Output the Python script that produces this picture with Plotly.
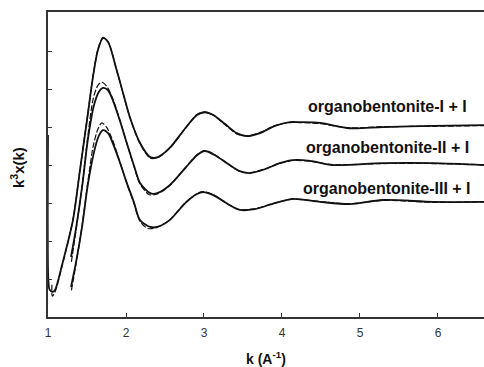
import plotly.graph_objects as go

# ---- data ----
k_I = [1.0, 1.004, 1.02, 1.06, 1.09, 1.18, 1.32, 1.41, 1.50, 1.58, 1.64, 1.705, 1.77, 1.88, 1.97,
       2.05, 2.18, 2.31, 2.41, 2.56, 2.76, 2.91, 3.01, 3.12, 3.27, 3.42, 3.55, 3.72, 3.91,
       4.10, 4.23, 4.49, 4.87, 5.29, 5.94, 6.59]
exp_I = [4.79, 1.0, 0.72, 0.66, 0.71, 1.37, 2.55, 3.87, 5.18, 6.37, 7.03, 7.34, 7.24, 6.50, 5.84,
         5.26, 4.58, 4.21, 4.21, 4.45, 4.97, 5.32, 5.39, 5.32, 5.08, 4.84, 4.76, 4.84, 5.03,
         5.13, 5.13, 5.11, 4.97, 5.00, 5.03, 5.05]
kf_I = [1.05, 1.055, 1.09, 1.18, 1.32, 1.41, 1.50, 1.58, 1.64, 1.705, 1.77, 1.88, 1.97, 2.05,
        2.18, 2.31, 2.41, 2.56, 2.76, 2.91, 3.01, 3.12, 3.27, 3.42, 3.55, 3.72, 3.91, 4.10,
        4.23, 4.49, 4.87, 5.29, 5.94, 6.59]
fit_I = [0.85, 0.55, 0.66, 1.33, 2.57, 3.88, 5.20, 6.38, 7.05, 7.36, 7.25, 6.50, 5.83, 5.25,
         4.56, 4.18, 4.20, 4.44, 4.96, 5.33, 5.40, 5.31, 5.06, 4.82, 4.77, 4.86, 5.04, 5.12,
         5.12, 5.09, 4.98, 5.01, 5.02, 5.04]

k_II = [1.295, 1.36, 1.44, 1.51, 1.59, 1.65, 1.705, 1.77, 1.83, 1.92, 2.01, 2.10, 2.18, 2.31,
        2.40, 2.56, 2.76, 2.91, 3.01, 3.14, 3.31, 3.46, 3.59, 3.78, 3.97, 4.14, 4.36, 4.65,
        5.29, 5.94, 6.59]
exp_II = [1.58, 2.34, 3.47, 4.66, 5.58, 5.92, 6.03, 5.97, 5.71, 5.18, 4.58, 4.00, 3.53, 3.26,
          3.26, 3.47, 3.92, 4.26, 4.37, 4.26, 4.03, 3.84, 3.79, 3.89, 4.05, 4.13, 4.11, 4.00,
          4.05, 4.05, 4.00]
kf_II = [1.30, 1.36, 1.44, 1.51, 1.58, 1.64, 1.69, 1.75, 1.82, 1.92, 2.01, 2.10, 2.18, 2.30,
         2.40, 2.56, 2.76, 2.91, 3.01, 3.14, 3.31, 3.46, 3.59, 3.78, 3.97, 4.14, 4.36, 4.65,
         5.29, 5.94, 6.59]
fit_II = [1.45, 2.30, 3.50, 4.75, 5.75, 6.10, 6.18, 6.08, 5.80, 5.20, 4.58, 3.98, 3.50, 3.22,
          3.24, 3.46, 3.93, 4.27, 4.38, 4.27, 4.02, 3.83, 3.80, 3.90, 4.04, 4.12, 4.10, 4.01,
          4.04, 4.04, 4.01]

k_III = [1.295, 1.36, 1.44, 1.51, 1.59, 1.65, 1.705, 1.77, 1.83, 1.92, 2.01, 2.10, 2.18, 2.31,
         2.40, 2.56, 2.76, 2.91, 2.99, 3.12, 3.31, 3.46, 3.65, 3.91, 4.14, 4.49, 4.87, 5.29,
         5.94, 6.59]
exp_III = [0.79, 1.45, 2.42, 3.47, 4.34, 4.76, 4.92, 4.84, 4.58, 4.08, 3.53, 3.03, 2.55, 2.37,
           2.37, 2.55, 3.00, 3.24, 3.29, 3.21, 2.97, 2.82, 2.84, 3.00, 3.11, 3.03, 2.97, 3.08,
           3.03, 3.03]
kf_III = [1.30, 1.36, 1.44, 1.51, 1.58, 1.64, 1.69, 1.75, 1.82, 1.92, 2.01, 2.10, 2.18, 2.28,
          2.40, 2.56, 2.76, 2.91, 2.99, 3.12, 3.31, 3.46, 3.65, 3.91, 4.14, 4.49, 4.87, 5.29,
          5.94, 6.59]
fit_III = [0.70, 1.40, 2.45, 3.55, 4.50, 4.95, 5.11, 5.00, 4.70, 4.10, 3.52, 3.00, 2.52, 2.33,
           2.36, 2.56, 3.01, 3.25, 3.30, 3.22, 2.96, 2.83, 2.85, 3.00, 3.10, 3.04, 2.98, 3.07,
           3.02, 3.03]

labels = ["organobentonite-I + I", "organobentonite-II + I", "organobentonite-III + I"]
label_y = [5.55, 4.45, 3.39]
label_x = 5.35

x_ticks = [1, 2, 3, 4, 5, 6]
y_ticks = [1, 2, 3, 4, 5, 6, 7]

FONT = "Liberation Sans, Arial"

fig = go.Figure()
for kk, yy in [(k_I, exp_I), (k_II, exp_II), (k_III, exp_III)]:
    fig.add_trace(go.Scatter(x=kk, y=yy, mode="lines",
                             line=dict(color="#111111", width=1.8, shape="spline", smoothing=0.8),
                             showlegend=False))
for kk, yy in [(kf_I, fit_I), (kf_II, fit_II), (kf_III, fit_III)]:
    fig.add_trace(go.Scatter(x=kk, y=yy, mode="lines",
                             line=dict(color="#111111", width=1.2, dash="6px,2px",
                                       shape="spline", smoothing=0.8),
                             showlegend=False))

for t, ly in zip(labels, label_y):
    fig.add_annotation(x=label_x, y=ly, text="<b>" + t + "</b>", showarrow=False,
                       xanchor="center", yanchor="middle",
                       font=dict(family=FONT, size=16, color="#111111"))

# axis titles
fig.add_annotation(xref="paper", yref="paper", x=-0.07, y=0.49, text="<b>k<sup>3</sup>x(k)</b>",
                   textangle=-90, showarrow=False, xanchor="center", yanchor="middle",
                   font=dict(family=FONT, size=15, color="#111111"))
fig.add_annotation(xref="paper", yref="paper", x=0.5, y=-0.135, text="<b>k (A<sup>-1</sup>)</b>",
                   showarrow=False, xanchor="center", yanchor="middle",
                   font=dict(family=FONT, size=14, color="#111111"))

fig.update_layout(
    width=484, height=367,
    margin=dict(l=48, r=0, t=12, b=50),
    paper_bgcolor="white", plot_bgcolor="white",
    showlegend=False,
    xaxis=dict(range=[1, 6.59], tickvals=x_ticks, ticks="inside", ticklen=4, tickwidth=1,
               tickcolor="#333333", showline=True, linecolor="#333333", linewidth=1.5,
               mirror=True, showgrid=False, zeroline=False, ticklabelstandoff=4,
               tickfont=dict(family=FONT, size=12, color="#333333")),
    yaxis=dict(range=[0, 8.03], tickvals=y_ticks, ticks="inside", ticklen=4, tickwidth=1,
               tickcolor="#333333", showline=True, linecolor="#333333", linewidth=1.5,
               showticklabels=False, showgrid=False, zeroline=False),
)

fig.write_html("out.html")
